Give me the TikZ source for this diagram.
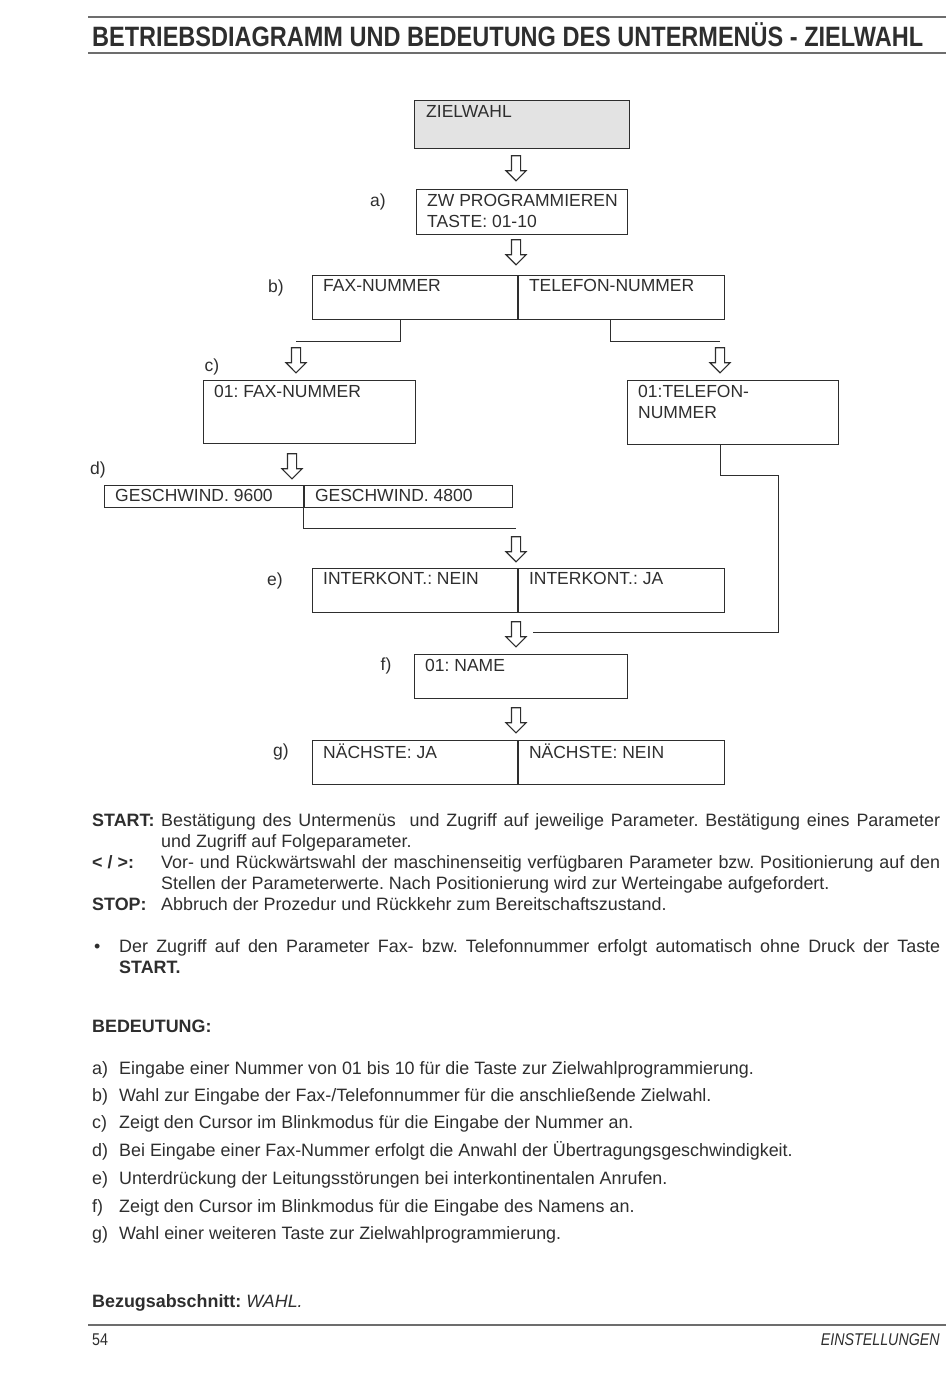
\documentclass[tikz,border=0pt]{standalone}
\usepackage{fontspec}
\setmainfont{Liberation Sans}
\newfontfamily\titlefont[FakeStretch=0.84]{Liberation Sans}
\usetikzlibrary{shapes.arrows}
\frenchspacing

\definecolor{ink}{gray}{0.18}
\newcommand{\txtsize}{\fontsize{17.5}{21}\selectfont}
\newcommand{\bodysize}{\fontsize{17.9}{21}\selectfont}

\tikzset{
    lcd/.style={draw=ink, line width=0.8pt, anchor=north west, inner sep=0pt},
    lcdtext/.style={anchor=north west, inner sep=0pt, align=left, text=ink, font=\txtsize},
    holarrow/.style={draw=ink, line width=1.1pt, single arrow, rotate=-90,
        minimum height=25pt, inner sep=4pt,
        single arrow head extend=5.5pt, single arrow head indent=0pt},
    link/.style={draw=ink, line width=0.8pt},
    tag/.style={text=ink, font=\txtsize, inner sep=0pt},
    body/.style={anchor=base west, inner sep=0pt, text=ink, font=\bodysize},
    rule/.style={draw=ink!70, line width=1.2pt}
}

\begin{document}
\begin{tikzpicture}[x=1pt,y=-1pt]
    \useasboundingbox (0,0) rectangle (950,1379);

    % Heading
    \draw[rule] (88,17) -- (946,17);
    \draw[rule] (88,53) -- (946,53);
    \node[anchor=base west, inner sep=0pt, text=ink, font=\titlefont\bfseries\fontsize{28}{30}\selectfont] (title) at (92,46) {BETRIEBSDIAGRAMM UND BEDEUTUNG DES UNTERMENÜS - ZIELWAHL};

    % Menu entry
    \node[lcd, fill=gray!22, minimum width=215pt, minimum height=48pt] (zw) at (414,100) {};
    \node[lcdtext] (zw-t) at ([shift={(12pt,-5pt)}]zw.north west) {ZIELWAHL};

    % Single displays
    \foreach \nm/\px/\py/\w/\h/\txt in {
        a/416/189/211/45/{ZW PROGRAMMIEREN\\TASTE: 01-10},
        c/203/380/212/63/{01: FAX-NUMMER},
        tel/627/380/211/64/{01:TELEFON-\\NUMMER},
        f/414/654/213/44/{01: NAME}} {
        \node[lcd, minimum width=\w pt, minimum height=\h pt] (\nm) at (\px,\py) {};
        \node[lcdtext] (\nm-t) at ([shift={(11pt,-5pt)}]\nm.north west) {\txt};
    }

    % Split displays: left half and right half
    \foreach \nm/\px/\py/\wl/\wr/\h/\tl/\tr in {
        b/312/275/205/206/44/{FAX-NUMMER}/{TELEFON-NUMMER},
        d/104/485/199/208/22/{GESCHWIND. 9600}/{GESCHWIND. 4800},
        e/312/568/205/206/44/{INTERKONT.: NEIN}/{INTERKONT.: JA},
        g/312/740/205/206/44/{NÄCHSTE: JA}/{NÄCHSTE: NEIN}} {
        \node[lcd, minimum width=\wl pt, minimum height=\h pt] (\nm l) at (\px,\py) {};
        \node[lcd, minimum width=\wr pt, minimum height=\h pt] (\nm r) at (\nm l.north east) {};
        \node[lcdtext] (\nm l-t) at ([shift={(11pt,-4pt)}]\nm l.north west) {\tl};
        \node[lcdtext] (\nm r-t) at ([shift={(11pt,-4pt)}]\nm r.north west) {\tr};
    }

    % Step labels
    \foreach \k/\px/\py in {a/378/202, b/276/288, c/212/367, d/98/470, e/275/581, f/386/666, g/281/752}
        \node[tag] (l\k) at (\px,\py) {\k)};

    % Hollow arrows
    \foreach \i/\px/\py in {1/516/166, 2/516/250, 3/296/358, 4/720/358, 5/292/464, 6/516/547, 7/516/632, 8/516/718}
        \node[holarrow] (ar\i) at (\px,\py) {};

    % Branch lines
    \draw[link] ([xshift=-15pt]bl.south) |- ([yshift=6pt]ar3.tail);
    \draw[link] ([xshift=-11pt]br.south) |- ([yshift=6pt]ar4.tail);
    \draw[link] (dl.south east) |- ([yshift=7.5pt]ar6.tail);
    \coordinate (bypass) at (778,475);
    \draw[link] (tel.south -| ar4.tip) |- (bypass) |- ([xshift=17pt]ar7.center);

    % Keys
    \node[body, font=\bodysize\bfseries] (start-k) at (92,826) {START:};
    \node[body, text width=779pt, align=justify] (start-t) at (161,826) {Bestätigung des Untermenüs~ und Zugriff auf jeweilige Parameter. Bestätigung eines Parameter\linebreak und Zugriff auf Folgeparameter.};
    \node[body, font=\bodysize\bfseries] (sel-k) at (92,868) {< / >:};
    \node[body, text width=779pt, align=justify] (sel-t) at (161,868) {Vor- und Rückwärtswahl der maschinenseitig verfügbaren Parameter bzw. Positionierung auf den\linebreak Stellen der Parameterwerte. Nach Positionierung wird zur Werteingabe aufgefordert.};
    \node[body, font=\bodysize\bfseries] (stop-k) at (92,910) {STOP:};
    \node[body] (stop-t) at (161,910) {Abbruch der Prozedur und Rückkehr zum Bereitschaftszustand.};

    % Note
    \node[body] (dot) at (94,952) {•};
    \node[body, text width=821pt, align=justify] (note-t) at (119,952) {Der Zugriff auf den Parameter Fax- bzw. Telefonnummer erfolgt automatisch ohne Druck der Taste\linebreak \textbf{START.}};

    % Meaning of the steps
    \node[body, font=\bodysize\bfseries] (bed) at (92,1032) {BEDEUTUNG:};
    \foreach \k/\yy/\txt in {
        a/1074/{Eingabe einer Nummer von 01 bis 10 für die Taste zur Zielwahlprogrammierung.},
        b/1101/{Wahl zur Eingabe der Fax-/Telefonnummer für die anschließende Zielwahl.},
        c/1128/{Zeigt den Cursor im Blinkmodus für die Eingabe der Nummer an.},
        d/1156/{Bei Eingabe einer Fax-Nummer erfolgt die Anwahl der Übertragungsgeschwindigkeit.},
        e/1184/{Unterdrückung der Leitungsstörungen bei interkontinentalen Anrufen.},
        f/1212/{Zeigt den Cursor im Blinkmodus für die Eingabe des Namens an.},
        g/1239/{Wahl einer weiteren Taste zur Zielwahlprogrammierung.}} {
        \node[body] (m\k) at (92,\yy) {\k)};
        \node[body] (m\k-t) at (119,\yy) {\txt};
    }
    \node[body] (bezug) at (92,1307) {\textbf{Bezugsabschnitt:} \textit{WAHL.}};

    % Footer
    \draw[rule] (88,1325) -- (946,1325);
    \node[body, font=\titlefont\fontsize{17}{19}\selectfont] (page) at (92,1345) {54};
    \node[body, anchor=base east, font=\titlefont\fontsize{17}{19}\selectfont\itshape] (chap) at (940,1345) {EINSTELLUNGEN};
\end{tikzpicture}
\end{document}
